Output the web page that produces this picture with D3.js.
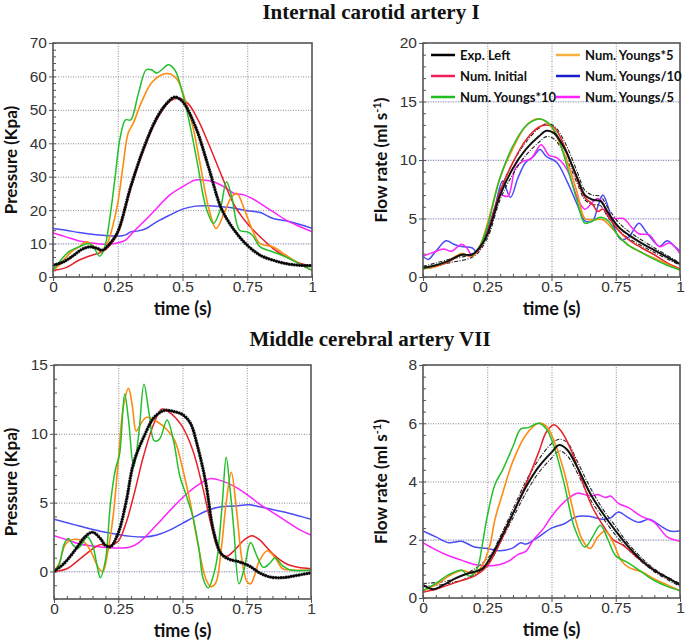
<!DOCTYPE html>
<html><head><meta charset="utf-8">
<script src="https://cdn.jsdelivr.net/npm/d3@7"></script>
<style>body{margin:0;background:#fff}svg{display:block}</style>
</head><body>
<svg id="c" width="685" height="642"></svg>
<script>
// ---------- DATA ----------
const seriesNames = ["Exp. Left","Num. Initial","Num. Youngs*10","Num. Youngs*5","Num. Youngs/10","Num. Youngs/5"];
const xTicks = [0,0.25,0.5,0.75,1];
const xTickLabels = ["0","0.25","0.5","0.75","1"];
const p1YTicks = [0,10,20,30,40,50,60,70];
const p2YTicks = [0,5,10,15,20];
const p3YTicks = [0,5,10,15];
const p4YTicks = [0,2,4,6,8];

// Panel 1: Internal carotid artery I - pressure (Kpa)
const icaP_exp = [[0,3.5],[0.04,4.5],[0.08,6.5],[0.11,8.2],[0.14,9],[0.17,8.6],[0.19,8],[0.22,10],[0.25,13.5],[0.3,27],[0.35,38.5],[0.4,47.5],[0.44,52],[0.47,53.8],[0.5,52.5],[0.55,45],[0.6,33],[0.65,20.5],[0.7,14],[0.75,9.5],[0.8,6.5],[0.85,5],[0.9,4],[0.95,3.5],[1,3.4]];
const icaP_init = [[0,2],[0.05,2.8],[0.1,5],[0.15,6.5],[0.19,7.5],[0.22,9.5],[0.25,13],[0.3,26.5],[0.35,38],[0.4,47],[0.45,52.5],[0.48,53.5],[0.52,52],[0.56,47],[0.6,40],[0.65,30.5],[0.7,21.5],[0.75,16],[0.8,12],[0.85,8.5],[0.9,6],[0.95,4.2],[1,3.2]];
const icaP_y10 = [[0,2],[0.03,5],[0.06,7.5],[0.1,9],[0.14,10],[0.16,8.5],[0.18,6.2],[0.2,9],[0.22,18],[0.24,30],[0.26,42],[0.28,47],[0.3,47],[0.33,55],[0.36,62],[0.38,62],[0.4,61],[0.42,62],[0.445,63.5],[0.47,62],[0.5,55],[0.53,45],[0.56,33],[0.59,21],[0.62,16],[0.645,20],[0.67,28.5],[0.69,24],[0.72,14],[0.75,13.5],[0.77,12.5],[0.8,9],[0.85,7.5],[0.9,6],[0.95,4],[1,2]];
const icaP_y5 = [[0,2],[0.03,4],[0.07,7.5],[0.1,9],[0.13,10.5],[0.16,9],[0.19,7.5],[0.21,10],[0.23,15],[0.25,22],[0.27,33],[0.29,43],[0.31,46],[0.34,52],[0.38,58],[0.42,60.5],[0.45,60.8],[0.48,59],[0.51,53],[0.54,45],[0.57,33],[0.6,21],[0.63,14.5],[0.66,19],[0.69,24],[0.71,25],[0.74,20],[0.77,14],[0.8,10],[0.85,9],[0.9,6.5],[0.95,4],[1,2]];
const icaP_d10 = [[0,14.5],[0.05,14],[0.1,13.3],[0.15,12.8],[0.2,12.4],[0.25,12.2],[0.28,12.6],[0.3,13.5],[0.33,13.8],[0.36,14.5],[0.4,16.5],[0.45,18.5],[0.5,20.3],[0.55,21.2],[0.6,21.3],[0.65,21],[0.7,20.6],[0.75,19.8],[0.8,19.3],[0.85,17.5],[0.9,16.8],[0.95,15.8],[1,14.6]];
const icaP_d5 = [[0,13.2],[0.05,12],[0.1,10.8],[0.15,10.2],[0.2,9.8],[0.25,10.2],[0.28,11],[0.31,13.5],[0.35,16.5],[0.4,20.5],[0.45,24.5],[0.5,27],[0.55,29],[0.58,29],[0.62,28.5],[0.66,27],[0.7,25],[0.74,24.5],[0.78,23],[0.82,21],[0.86,19],[0.9,17],[0.95,15.2],[1,13.6]];

// Panel 2: Internal carotid artery I - flow rate (ml/s)
const icaQ_exp = [[0,0.8],[0.05,1.0],[0.1,1.4],[0.15,1.9],[0.19,1.9],[0.22,2.5],[0.25,3.6],[0.3,7],[0.35,9.3],[0.4,10.9],[0.45,12],[0.48,12.5],[0.51,12.3],[0.55,11],[0.6,8.5],[0.63,7],[0.66,6.6],[0.69,6.5],[0.72,5.5],[0.76,4.3],[0.8,3.6],[0.85,2.9],[0.9,2.3],[0.95,1.7],[1,1.1]];
const icaQ_expHi = [[0,0.9],[0.1,1.5],[0.2,2.1],[0.25,3.9],[0.3,7.4],[0.35,9.8],[0.4,11.5],[0.45,12.7],[0.48,13.1],[0.51,12.9],[0.55,11.6],[0.6,9],[0.63,7.4],[0.66,7.0],[0.69,6.9],[0.72,5.9],[0.76,4.7],[0.8,3.9],[0.9,2.5],[1,1.2]];
const icaQ_expLo = [[0,0.7],[0.1,1.2],[0.2,1.8],[0.25,3.3],[0.3,6.6],[0.35,8.8],[0.4,10.4],[0.45,11.5],[0.48,12.0],[0.51,11.8],[0.55,10.5],[0.6,8.0],[0.63,6.6],[0.66,6.2],[0.69,6.1],[0.72,5.1],[0.76,4.0],[0.8,3.3],[0.9,2.1],[1,1.0]];
const icaQ_init = [[0,0.7],[0.05,0.9],[0.1,1.3],[0.15,1.9],[0.19,1.8],[0.22,2.4],[0.25,3.8],[0.3,7.3],[0.35,9.8],[0.4,11.7],[0.45,12.8],[0.48,13],[0.51,12.8],[0.55,11.2],[0.6,8.3],[0.63,6.8],[0.66,6.2],[0.68,5.6],[0.7,5.8],[0.72,5.2],[0.76,4],[0.8,3.2],[0.85,2.5],[0.9,1.9],[0.95,1.2],[1,0.7]];
const icaQ_y10 = [[0,0.7],[0.05,1.0],[0.1,1.4],[0.15,1.9],[0.19,1.9],[0.22,2.6],[0.25,4.3],[0.3,8.5],[0.35,11.2],[0.4,12.9],[0.45,13.5],[0.48,13.3],[0.52,12.2],[0.56,9.5],[0.6,6.5],[0.63,4.6],[0.66,4.8],[0.69,5.1],[0.72,4.8],[0.76,3.5],[0.8,2.7],[0.85,2.1],[0.9,1.5],[0.95,1.0],[1,0.6]];
const icaQ_y5 = [[0,0.7],[0.05,0.9],[0.1,1.4],[0.15,2.0],[0.19,1.8],[0.22,2.6],[0.25,4.5],[0.3,8.5],[0.35,11],[0.4,12.9],[0.44,13.5],[0.47,13.4],[0.5,12.8],[0.55,10.5],[0.6,7.2],[0.63,5.0],[0.66,4.9],[0.7,4.9],[0.73,4.3],[0.77,3.3],[0.8,2.7],[0.85,2.1],[0.9,1.6],[0.95,1.1],[1,0.6]];
const icaQ_d10 = [[0,1.8],[0.02,1.5],[0.05,2.2],[0.09,3.1],[0.12,2.8],[0.15,2.6],[0.19,2.5],[0.21,2.2],[0.25,4],[0.28,6],[0.31,8.2],[0.34,6.8],[0.37,8.5],[0.4,9.8],[0.43,10.3],[0.455,10.9],[0.48,10.3],[0.52,9.8],[0.56,8.2],[0.6,6.2],[0.63,4.8],[0.66,4.8],[0.68,6],[0.7,7],[0.72,6],[0.74,4.5],[0.77,3.2],[0.8,3.4],[0.84,4.6],[0.87,3.8],[0.9,3.0],[0.92,2.6],[0.95,3.1],[0.98,2.6],[1,2.2]];
const icaQ_d5 = [[0,1.8],[0.04,2.1],[0.08,2.4],[0.11,2.2],[0.15,2.8],[0.17,2.5],[0.19,1.9],[0.22,2.4],[0.25,3.7],[0.28,5.5],[0.3,7],[0.33,6.9],[0.36,9.3],[0.39,9.9],[0.42,10.1],[0.46,11.3],[0.49,10.4],[0.52,10.2],[0.56,9.2],[0.6,6.8],[0.63,5.8],[0.66,6.4],[0.68,6.7],[0.7,6.3],[0.72,5.2],[0.75,5],[0.78,5],[0.81,4.3],[0.84,3.7],[0.88,3.6],[0.92,2.6],[0.96,2.9],[1,2]];

// Panel 3: Middle cerebral artery VII - pressure (Kpa)
const mcaP_exp = [[0,0],[0.04,0.6],[0.08,1.5],[0.12,2.5],[0.15,2.85],[0.18,2.4],[0.2,1.9],[0.22,1.8],[0.25,2.8],[0.28,5],[0.31,7.9],[0.35,9.8],[0.39,11.2],[0.43,11.7],[0.47,11.6],[0.5,11.4],[0.53,10.8],[0.56,9],[0.59,6.5],[0.62,3],[0.65,1.3],[0.68,0.9],[0.72,0.7],[0.76,0.4],[0.8,-0.1],[0.84,-0.4],[0.89,-0.45],[0.94,-0.3],[1,-0.1]];
const mcaP_init = [[0,0],[0.05,0.2],[0.1,0.9],[0.14,1.5],[0.18,1.95],[0.22,1.9],[0.25,2.2],[0.28,3.5],[0.31,5.5],[0.35,8.5],[0.39,10.8],[0.42,11.8],[0.46,11.4],[0.5,10.5],[0.54,8.8],[0.58,6],[0.61,3.5],[0.64,1.6],[0.67,1.1],[0.7,1.5],[0.74,2.3],[0.77,2.6],[0.8,2.3],[0.85,1.3],[0.9,0.6],[0.95,0.3],[1,0.2]];
const mcaP_y10 = [[0,0],[0.02,0.5],[0.04,2],[0.056,2.4],[0.075,1.9],[0.095,1.7],[0.13,2.5],[0.15,1.9],[0.17,0.2],[0.18,-0.45],[0.2,0.8],[0.22,5],[0.24,7.5],[0.255,8.5],[0.275,12.9],[0.29,11],[0.31,7.6],[0.33,10],[0.35,13.6],[0.37,11.5],[0.39,9.5],[0.41,9.6],[0.44,11],[0.465,9.5],[0.49,6.9],[0.515,5.5],[0.54,4],[0.565,1.5],[0.58,-0.5],[0.6,-1.2],[0.62,-0.3],[0.635,1],[0.655,5],[0.67,8.3],[0.685,6],[0.7,3],[0.72,-0.9],[0.74,0.2],[0.765,2.1],[0.79,1.1],[0.815,0.3],[0.84,0.6],[0.86,1],[0.89,0.4],[0.92,0.1],[1,0.1]];
const mcaP_y5 = [[0,0],[0.02,0.6],[0.045,2],[0.07,2.3],[0.1,2.3],[0.125,2],[0.15,1.2],[0.175,0.2],[0.19,0],[0.21,1.5],[0.23,4],[0.25,8],[0.27,12],[0.29,13.3],[0.305,12],[0.32,10.2],[0.34,10.8],[0.36,11.2],[0.4,10.9],[0.44,10.3],[0.47,9.5],[0.5,7.5],[0.53,5],[0.56,2],[0.59,-0.5],[0.61,-1.1],[0.63,-0.8],[0.65,1.5],[0.67,5],[0.69,7.2],[0.71,4.5],[0.73,1],[0.75,-0.7],[0.765,-0.9],[0.78,-0.3],[0.8,0.8],[0.83,1.5],[0.86,1],[0.89,0.2],[0.93,0.1],[1,0.1]];
const mcaP_d10 = [[0,3.8],[0.1,3.3],[0.2,2.85],[0.3,2.55],[0.35,2.5],[0.4,2.65],[0.45,3],[0.5,3.5],[0.55,4],[0.6,4.45],[0.65,4.7],[0.7,4.75],[0.76,4.85],[0.8,4.7],[0.85,4.5],[0.9,4.3],[0.95,4.05],[1,3.8]];
const mcaP_d5 = [[0,2.6],[0.05,2.3],[0.1,2.0],[0.15,1.85],[0.2,1.75],[0.25,1.7],[0.3,1.8],[0.33,2.1],[0.37,2.8],[0.42,3.8],[0.47,4.8],[0.52,5.7],[0.57,6.4],[0.61,6.75],[0.65,6.6],[0.7,6.2],[0.75,5.6],[0.8,4.9],[0.85,4.3],[0.9,3.7],[0.95,3.1],[1,2.65]];

// Panel 4: Middle cerebral artery VII - flow rate (ml/s)
const mcaQ_exp = [[0,0.45],[0.04,0.3],[0.08,0.45],[0.12,0.65],[0.16,0.8],[0.2,0.9],[0.23,1.0],[0.26,1.35],[0.3,2.0],[0.35,2.9],[0.4,3.8],[0.45,4.5],[0.5,5.0],[0.53,5.25],[0.56,5.1],[0.6,4.5],[0.65,3.6],[0.7,2.9],[0.75,2.3],[0.8,1.75],[0.85,1.3],[0.9,0.95],[0.95,0.7],[1,0.45]];
const mcaQ_expHi = [[0,0.5],[0.1,0.6],[0.2,1.0],[0.26,1.45],[0.3,2.1],[0.35,3.05],[0.4,4.0],[0.45,4.75],[0.5,5.3],[0.53,5.45],[0.56,5.35],[0.6,4.7],[0.65,3.8],[0.7,3.05],[0.75,2.45],[0.8,1.85],[0.9,1.0],[1,0.5]];
const mcaQ_expLo = [[0,0.4],[0.1,0.5],[0.2,0.8],[0.26,1.25],[0.3,1.9],[0.35,2.75],[0.4,3.6],[0.45,4.3],[0.5,4.8],[0.53,5.05],[0.56,4.9],[0.6,4.3],[0.65,3.4],[0.7,2.75],[0.75,2.15],[0.8,1.65],[0.9,0.9],[1,0.4]];
const mcaQ_init = [[0,0.2],[0.05,0.3],[0.1,0.45],[0.15,0.6],[0.2,0.75],[0.25,1.1],[0.3,1.9],[0.35,2.9],[0.4,3.9],[0.45,5.0],[0.48,5.7],[0.51,5.95],[0.54,5.7],[0.58,5.0],[0.62,4.0],[0.66,3.1],[0.7,2.5],[0.74,2.0],[0.78,1.8],[0.82,1.5],[0.86,1.2],[0.9,0.95],[0.95,0.7],[1,0.45]];
const mcaQ_y10 = [[0,0.25],[0.05,0.5],[0.1,0.8],[0.15,0.95],[0.18,0.75],[0.21,1.0],[0.23,1.8],[0.25,2.8],[0.28,3.9],[0.31,4.4],[0.35,5.2],[0.38,5.8],[0.41,5.85],[0.45,6.0],[0.48,5.8],[0.51,5.2],[0.55,3.9],[0.59,2.4],[0.63,1.75],[0.66,2.1],[0.69,2.5],[0.72,2.0],[0.75,1.45],[0.8,1.2],[0.85,0.9],[0.9,0.6],[0.95,0.4],[1,0.25]];
const mcaQ_y5 = [[0,0.25],[0.05,0.45],[0.1,0.75],[0.15,0.95],[0.2,0.85],[0.23,1.1],[0.26,1.8],[0.28,2.7],[0.31,3.6],[0.35,4.7],[0.4,5.6],[0.45,6.0],[0.48,5.9],[0.51,5.4],[0.55,4.3],[0.59,2.8],[0.62,2.0],[0.65,1.7],[0.68,2.1],[0.71,2.3],[0.74,1.9],[0.77,1.3],[0.8,1.05],[0.85,0.9],[0.9,0.65],[0.95,0.45],[1,0.25]];
const mcaQ_d10 = [[0,2.3],[0.05,2.1],[0.1,1.9],[0.15,1.95],[0.2,1.75],[0.25,1.7],[0.3,1.62],[0.35,1.72],[0.38,1.9],[0.4,1.85],[0.45,2.1],[0.5,2.4],[0.55,2.55],[0.6,2.8],[0.65,2.8],[0.7,2.7],[0.73,2.75],[0.76,2.95],[0.8,2.75],[0.84,2.6],[0.88,2.7],[0.92,2.5],[0.96,2.3],[1,2.3]];
const mcaQ_d5 = [[0,1.9],[0.05,1.65],[0.1,1.45],[0.15,1.3],[0.2,1.15],[0.25,1.1],[0.3,1.15],[0.34,1.3],[0.37,1.5],[0.4,1.6],[0.43,2.0],[0.47,2.4],[0.5,2.8],[0.55,3.3],[0.6,3.6],[0.65,3.5],[0.68,3.55],[0.71,3.45],[0.73,3.5],[0.76,3.25],[0.8,3.1],[0.85,2.8],[0.9,2.6],[0.95,2.1],[1,1.95]];

// ---------- STYLE / LAYOUT ----------
const colors = {exp:"#111", init:"#e8202a", y10:"#22c02a", y5:"#ff8a10", d10:"#4a4cf5", d5:"#ff22ff"};
const legendColors = ["#000","#ee1f5a","#22bb22","#f8b040","#1a1acc","#ff22ff"];

const panels = [
  {x0:53,x1:312,y0:43,y1:277, yDomain:[0,70], yTicks:p1YTicks, yMinorStep:2, ylabel:"Pressure (Kpa)", ylabelX:11, flow:false,
   blueRef:[10], s:{exp:icaP_exp,init:icaP_init,y10:icaP_y10,y5:icaP_y5,d10:icaP_d10,d5:icaP_d5}},
  {x0:423,x1:680,y0:43,y1:277, yDomain:[0,20], yTicks:p2YTicks, yMinorStep:1, ylabel:"Flow rate (ml s", ylabelX:381, flow:true, legend:true,
   blueRef:[5,10,15], s:{exp:icaQ_exp,hi:icaQ_expHi,lo:icaQ_expLo,init:icaQ_init,y10:icaQ_y10,y5:icaQ_y5,d10:icaQ_d10,d5:icaQ_d5}},
  {x0:54,x1:311,y0:365,y1:599, yDomain:[-2,15], yTicks:p3YTicks, yMinorStep:1, ylabel:"Pressure (Kpa)", ylabelX:11, flow:false,
   blueRef:[0], s:{exp:mcaP_exp,init:mcaP_init,y10:mcaP_y10,y5:mcaP_y5,d10:mcaP_d10,d5:mcaP_d5}},
  {x0:423,x1:680,y0:365,y1:598, yDomain:[0,8], yTicks:p4YTicks, yMinorStep:0.4, ylabel:"Flow rate (ml s", ylabelX:381, flow:true,
   blueRef:[2], s:{exp:mcaQ_exp,hi:mcaQ_expHi,lo:mcaQ_expLo,init:mcaQ_init,y10:mcaQ_y10,y5:mcaQ_y5,d10:mcaQ_d10,d5:mcaQ_d5}}
];

const svg = d3.select("#c");
svg.append("rect").attr("width",685).attr("height",642).attr("fill","#fff");

svg.append("text").attr("x",371).attr("y",19).attr("text-anchor","middle")
  .attr("font-family","'Liberation Serif','Times New Roman',serif").attr("font-weight","bold").attr("font-size",21).attr("fill","#111")
  .text("Internal carotid artery I");
svg.append("text").attr("x",370).attr("y",346).attr("text-anchor","middle")
  .attr("font-family","'Liberation Serif','Times New Roman',serif").attr("font-weight","bold").attr("font-size",21).attr("fill","#111")
  .text("Middle cerebral artery VII");

const tickFont = "'Liberation Sans',Arial,sans-serif";
const labFont = "Lato,'Open Sans',sans-serif";

panels.forEach((p,i)=>{
  const x = d3.scaleLinear().domain([0,1]).range([p.x0,p.x1]);
  const y = d3.scaleLinear().domain(p.yDomain).range([p.y1,p.y0]);
  const W = p.x1-p.x0, H = p.y1-p.y0;
  const g = svg.append("g");
  const clipId = "clip"+i;
  svg.append("clipPath").attr("id",clipId).append("rect").attr("x",p.x0).attr("y",p.y0).attr("width",W).attr("height",H);

  // grid
  const gx = g.append("g").attr("transform",`translate(0,${p.y1})`)
    .call(d3.axisBottom(x).tickValues(xTicks.slice(1,-1)).tickSize(-H).tickFormat(""));
  const yGridVals = p.yTicks.filter(v=>v>p.yDomain[0] && v<p.yDomain[1]);
  const gy = g.append("g").attr("transform",`translate(${p.x0},0)`)
    .call(d3.axisLeft(y).tickValues(yGridVals).tickSize(-W).tickFormat(""));
  [gx,gy].forEach(a=>{a.select(".domain").remove(); a.selectAll("line").attr("stroke","#8a8a8a").attr("stroke-width",1).attr("stroke-dasharray","1,1.5");});
  // faint blue reference lines
  g.selectAll(null).data(p.blueRef).enter().append("line")
    .attr("x1",p.x0).attr("x2",p.x1).attr("y1",d=>y(d)).attr("y2",d=>y(d))
    .attr("stroke","#a8aaf4").attr("stroke-width",0.7).attr("opacity",0.5);

  // minor ticks (inside)
  const xMinor = d3.range(0,1.0001,0.05);
  const gmx = g.append("g").attr("transform",`translate(0,${p.y1})`).call(d3.axisBottom(x).tickValues(xMinor).tickSize(-3).tickFormat(""));
  const yMinor = d3.range(p.yDomain[0],p.yDomain[1]+1e-9,p.yMinorStep);
  const gmy = g.append("g").attr("transform",`translate(${p.x0},0)`).call(d3.axisLeft(y).tickValues(yMinor).tickSize(-3).tickFormat(""));
  [gmx,gmy].forEach(a=>{a.select(".domain").remove(); a.selectAll("line").attr("stroke","#555");});

  // major axes with labels
  const ax = g.append("g").attr("transform",`translate(0,${p.y1})`)
    .call(d3.axisBottom(x).tickValues(xTicks).tickFormat((d,k)=>xTickLabels[k]).tickSize(4).tickPadding(2));
  const ay = g.append("g").attr("transform",`translate(${p.x0},0)`)
    .call(d3.axisLeft(y).tickValues(p.yTicks).tickFormat(d3.format("d")).tickSize(4).tickPadding(2));
  [ax,ay].forEach(a=>{a.select(".domain").remove(); a.selectAll("line").attr("stroke","#555");
    a.selectAll("text").attr("font-family",tickFont).attr("font-size",15.5).attr("fill","#333");});
  ax.selectAll("text").attr("dy","0.6em");

  // lines
  const line = d3.line().x(d=>x(d[0])).y(d=>y(d[1])).curve(d3.curveCatmullRom.alpha(0.5));
  const lg = g.append("g").attr("clip-path",`url(#${clipId})`);
  const draw = (data,color,w,dash)=>lg.append("path").datum(data).attr("d",line).attr("fill","none")
      .attr("stroke",color).attr("stroke-width",w).attr("stroke-linejoin","round").attr("stroke-dasharray",dash||null);
  draw(p.s.d10,colors.d10,1.5);
  draw(p.s.d5,colors.d5,1.5);
  if(p.flow){
    draw(p.s.hi,"#222",1.1,"4,1.5,1,1.5");
    draw(p.s.lo,"#222",1.1,"4,1.5,1,1.5");
  }
  draw(p.s.init,colors.init,1.5);
  draw(p.s.y5,colors.y5,1.6);
  draw(p.s.y10,colors.y10,1.5);
  if(p.flow) draw(p.s.exp,colors.exp,2);
  else { draw(p.s.exp,"#222",3.2,"2,0.6"); draw(p.s.exp,"#000",1.6); }

  // frame
  g.append("rect").attr("x",p.x0).attr("y",p.y0).attr("width",W).attr("height",H)
    .attr("fill","none").attr("stroke","#555").attr("stroke-width",1.6);

  // axis titles
  g.append("text").attr("x",(p.x0+p.x1)/2).attr("y",p.y1+38).attr("text-anchor","middle")
    .attr("font-family",labFont).attr("font-weight","bold").attr("font-size",18).attr("fill","#111").text("time (s)");
  const yl = g.append("text").attr("transform",`translate(${p.ylabelX+6},${(p.y0+p.y1)/2}) rotate(-90)`)
    .attr("text-anchor","middle").attr("font-family",labFont).attr("font-weight","bold").attr("font-size",17).attr("fill","#111");
  yl.append("tspan").text(p.ylabel);
  if(p.flow){
    yl.append("tspan").attr("font-size",11).attr("dy",-6).text("-1");
    yl.append("tspan").attr("dy",6).text(")");
  }

  // legend
  if(p.legend){
    const keys = ["exp","init","y10","y5","d10","d5"];
    const lgd = g.append("g");
    keys.forEach((k,j)=>{
      const col = j<3?0:1, row = j%3;
      const lx = col===0?431:556, ly = 55+row*21;
      lgd.append("line").attr("x1",lx).attr("x2",lx+24).attr("y1",ly).attr("y2",ly)
        .attr("stroke",legendColors[j]).attr("stroke-width",2.5);
      lgd.append("text").attr("x",lx+29).attr("y",ly+4.5).attr("font-family",labFont).attr("font-weight","bold")
        .attr("font-size",13).attr("fill","#111").text(seriesNames[j]);
    });
  }
});
</script>
</body></html>
